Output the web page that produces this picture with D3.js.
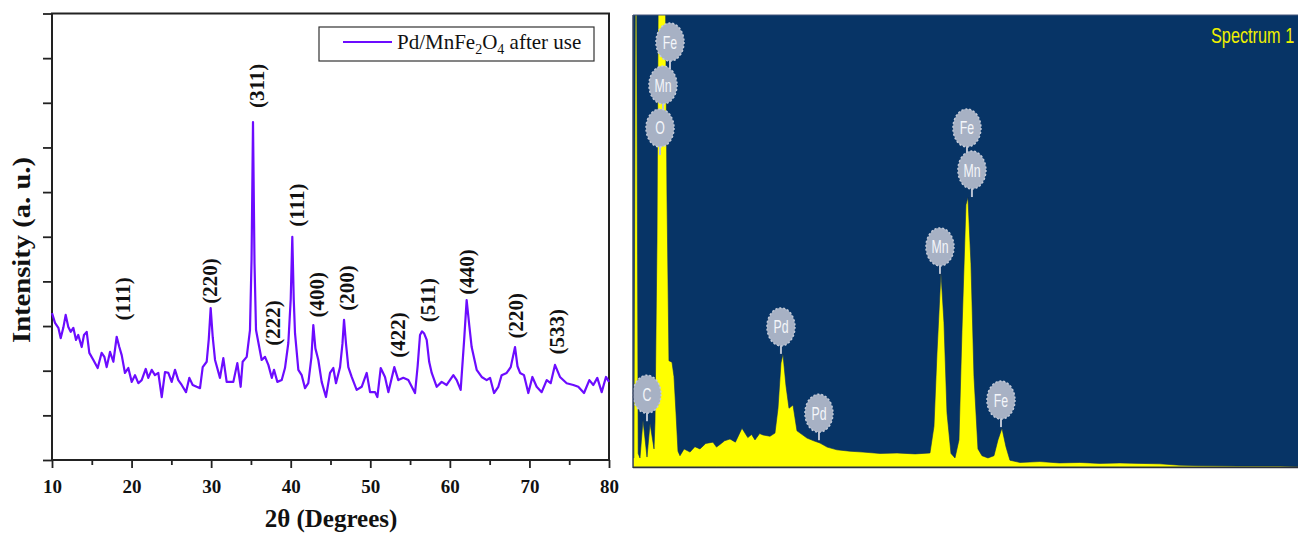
<!DOCTYPE html>
<html>
<head>
<meta charset="utf-8">
<script src="https://cdn.jsdelivr.net/npm/d3@7"></script>
<style>
  body { margin: 0; background: #fff; }
  svg { display: block; }
</style>
</head>
<body>
<svg id="mainFrame"></svg>
<script>
// XRD pattern
const twoTheta = [10.0, 10.38, 10.8, 11.09, 11.42, 11.72, 12.05, 12.35, 12.68, 13.02, 13.3, 13.73, 14.02, 14.36, 14.69,
  15.2, 15.74, 16.24, 16.58, 16.87, 17.29, 17.71, 18.13, 18.46, 18.76, 19.17, 19.59, 20.02, 20.43, 20.85,
  21.27, 21.78, 22.1, 22.53, 22.94, 23.36, 23.79, 24.2, 24.62, 25.04, 25.46, 25.87, 26.3, 26.84, 27.26,
  27.68, 28.18, 28.6, 28.94, 29.44, 29.7, 29.94, 30.2, 30.49, 31.11, 31.53, 31.95, 32.79, 33.29, 33.71,
  33.96, 34.47, 34.88, 35.08, 35.26, 35.45, 35.64, 36.35, 36.77, 37.19, 37.62, 37.9, 38.32, 38.87, 39.28,
  39.7, 40.0, 40.2, 40.38, 40.54, 40.96, 41.38, 41.8, 42.21, 42.6, 42.84, 43.1, 43.47, 43.89, 44.43,
  44.94, 45.35, 45.69, 46.2, 46.5, 46.7, 46.95, 47.24, 47.66, 48.29, 48.92, 49.55, 49.97, 50.6, 50.89,
  51.31, 51.85, 52.27, 53.02, 53.52, 54.15, 54.78, 55.62, 55.95, 56.25, 56.5, 56.75, 57.09, 57.4, 57.72,
  58.35, 58.97, 59.6, 60.44, 60.86, 61.36, 61.8, 62.11, 62.45, 62.74, 63.37, 64.0, 64.63, 65.05, 65.55,
  66.09, 66.51, 67.14, 67.65, 68.19, 68.5, 68.82, 69.32, 69.86, 70.37, 70.91, 71.54, 72.17, 72.67, 73.21,
  73.84, 74.68, 75.52, 76.14, 76.86, 77.53, 78.03, 78.53, 79.08, 79.62, 80.0];
const intensity = [32.9, 30.7, 29.6, 27.3, 29.6, 32.5, 29.8, 28.7, 29.6, 26.9, 28.0, 25.3, 28.0, 28.7, 24.0,
  22.4, 20.6, 24.0, 23.1, 20.8, 24.2, 22.0, 27.6, 25.3, 23.5, 19.5, 20.6, 17.5, 19.0, 17.2,
  17.9, 20.4, 18.4, 20.2, 19.0, 19.5, 14.1, 19.7, 19.5, 17.5, 20.2, 17.9, 16.8, 15.2, 18.4,
  16.8, 16.4, 16.1, 20.8, 22.0, 27.0, 34.0, 27.5, 22.4, 18.4, 22.8, 17.5, 17.5, 21.7, 16.4,
  22.0, 23.1, 29.1, 45.0, 75.7, 44.0, 29.1, 22.4, 23.1, 21.3, 18.4, 20.2, 17.5, 17.9, 20.6,
  26.2, 36.0, 50.0, 36.0, 28.4, 20.2, 19.0, 16.1, 17.2, 23.0, 30.2, 25.0, 22.4, 17.5, 14.1,
  19.5, 20.6, 17.2, 20.8, 26.0, 31.4, 26.0, 20.8, 18.6, 15.7, 16.4, 19.5, 15.2, 15.2, 14.1,
  20.6, 18.6, 15.2, 20.8, 17.9, 18.4, 17.9, 15.0, 21.0, 28.0, 28.8, 28.4, 26.9, 22.0, 19.5,
  16.4, 17.5, 16.8, 19.0, 17.9, 15.7, 27.0, 35.8, 30.0, 25.3, 20.2, 18.6, 17.9, 18.4, 15.0,
  16.4, 19.0, 19.5, 20.8, 25.3, 21.0, 19.5, 19.0, 15.0, 18.6, 16.4, 15.2, 17.9, 17.2, 21.3,
  18.6, 17.2, 16.8, 16.4, 15.0, 17.9, 16.8, 18.4, 15.2, 18.6, 17.5];

// hkl labels: text, 2theta of label centre, intensity of label centre
const hklText = ["(111)", "(220)", "(311)", "(222)", "(111)", "(400)", "(200)", "(422)", "(511)", "(440)", "(220)", "(533)"];
const hklTheta = [18.9, 29.86, 35.76, 37.77, 40.79, 43.3, 47.07, 53.48, 57.25, 62.16, 68.3, 73.47];
const hklLevel = [36.1, 40.1, 83.8, 30.7, 57.1, 37.0, 38.5, 28.0, 35.8, 42.1, 32.3, 28.7];

const xTicks = d3.range(10, 81, 5);
const yTicks = d3.range(0, 101, 10);

// EDS spectrum
const energy = [0.204, 0.22, 0.26, 0.30, 0.333, 0.389, 0.463, 0.519, 0.593, 0.611, 0.648, 0.685, 0.741, 0.796,
  0.833, 0.870, 0.926, 0.963, 1.0, 1.037, 1.074, 1.15, 1.26, 1.35, 1.444, 1.55, 1.685, 1.75, 1.815, 1.9, 2.0,
  2.1, 2.222, 2.33, 2.4, 2.463, 2.55, 2.611, 2.741, 2.833, 2.889, 2.944, 2.981, 3.037, 3.093, 3.167, 3.241,
  3.426, 3.55, 3.667, 3.8, 3.981, 4.22, 4.463, 4.78, 5.093, 5.43, 5.704, 5.778, 5.833, 5.907, 5.963, 6.019,
  6.093, 6.167, 6.241, 6.296, 6.37, 6.407, 6.463, 6.519, 6.593, 6.667, 6.778, 6.889, 6.963, 7.037, 7.111,
  7.185, 7.37, 7.74, 8.1, 8.48, 8.85, 9.22, 9.59, 9.96, 10.33, 10.7, 11.44, 12.19, 12.52];
const counts = [20, 20, 1500, 30, 20, 104, 22, 97, 40, 100, 500, 1400, 1500, 1200,
  600, 235, 232, 200, 120, 35, 25, 40, 33, 45, 40, 52, 55, 44, 50, 58, 62,
  55, 86, 65, 72, 60, 74, 71, 68, 75, 130, 230, 250, 180, 130, 137, 80,
  64, 58, 53, 44, 38, 35, 33, 30, 31, 29, 31, 90, 250, 431, 320, 120,
  30, 20, 60, 300, 580, 597, 450, 200, 40, 25, 20, 25, 60, 86, 45,
  15, 10, 12, 9, 10, 8, 9, 8, 7, 4, 3, 2, 2, 1];

// element markers: symbol, energy and count level of the marker centre
const elemName = ["Fe", "Mn", "O", "C", "Pd", "Pd", "Mn", "Fe", "Mn", "Fe"];
const elemEnergy = [0.889, 0.759, 0.704, 0.463, 2.944, 3.648, 5.889, 6.389, 6.481, 7.019];
const elemLevel = [940, 845, 750, 161, 310, 119, 487, 750, 657, 148];

const width = 1298, height = 534;
const purple = "#6c0cff";
const serif = "'Liberation Serif', 'Times New Roman', serif";
const sans = "'Liberation Sans', Arial, sans-serif";

const svg = d3.select("#mainFrame")
    .attr("width", width)
    .attr("height", height);

// ---------- left panel: XRD ----------
const x = d3.scaleLinear().domain([10, 80]).range([52, 609]);
const y = d3.scaleLinear().domain([0, 100]).range([460, 13.5]);

const xrd = svg.append("g");

const xAxis = xrd.append("g")
    .attr("transform", `translate(0,${y(0)})`)
    .call(d3.axisBottom(x).tickValues(xTicks).tickSize(8).tickPadding(12)
        .tickFormat(d => d % 10 === 0 ? d : ""));
xAxis.select(".domain").remove();
xAxis.selectAll(".tick line")
    .attr("stroke", "#222")
    .attr("stroke-width", 1.8)
    .attr("y2", d => d % 10 === 0 ? 8 : 5);
xAxis.selectAll(".tick text")
    .attr("fill", "#111")
    .attr("font-family", serif)
    .attr("font-weight", "bold")
    .attr("font-size", 19);

const yAxis = xrd.append("g")
    .attr("transform", `translate(${x(10)},0)`)
    .call(d3.axisLeft(y).tickValues(yTicks).tickSize(9).tickFormat(""));
yAxis.select(".domain").remove();
yAxis.selectAll(".tick line").attr("stroke", "#222").attr("stroke-width", 1.8);

xrd.append("rect")
    .attr("x", x(10))
    .attr("y", y(100))
    .attr("width", x(80) - x(10))
    .attr("height", y(0) - y(100))
    .attr("fill", "none")
    .attr("stroke", "#222")
    .attr("stroke-width", 2);

const line = d3.line()
    .x((d, i) => x(twoTheta[i]))
    .y(d => y(d));

xrd.append("path")
    .datum(intensity)
    .attr("d", line)
    .attr("fill", "none")
    .attr("stroke", purple)
    .attr("stroke-width", 2.2)
    .attr("stroke-linejoin", "round");

xrd.selectAll(".hkl")
    .data(hklText)
    .join("text")
    .attr("class", "hkl")
    .attr("transform", (d, i) => `translate(${x(hklTheta[i])},${y(hklLevel[i])}) rotate(-90)`)
    .attr("text-anchor", "middle")
    .attr("dy", "0.35em")
    .attr("font-family", serif)
    .attr("font-weight", "bold")
    .attr("font-size", 21)
    .attr("fill", "#111")
    .text(d => d);

// axis titles
xrd.append("text")
    .attr("x", 331)
    .attr("y", 527)
    .attr("text-anchor", "middle")
    .attr("font-family", serif)
    .attr("font-weight", "bold")
    .attr("font-size", 25)
    .attr("fill", "#111")
    .text("2θ (Degrees)");

xrd.append("text")
    .attr("transform", "translate(30,250) rotate(-90)")
    .attr("text-anchor", "middle")
    .attr("font-family", serif)
    .attr("font-weight", "bold")
    .attr("font-size", 26)
    .attr("textLength", 186)
    .attr("lengthAdjust", "spacingAndGlyphs")
    .attr("fill", "#111")
    .text("Intensity (a. u.)");

// legend
const legend = xrd.append("g");
legend.append("rect")
    .attr("x", 319).attr("y", 27)
    .attr("width", 275).attr("height", 34)
    .attr("fill", "#fff")
    .attr("stroke", "#333")
    .attr("stroke-width", 1.2);
legend.append("line")
    .attr("x1", 343).attr("x2", 392)
    .attr("y1", 42).attr("y2", 42)
    .attr("stroke", purple)
    .attr("stroke-width", 2.2);
const lt = legend.append("text")
    .attr("x", 397).attr("y", 49)
    .attr("font-family", serif)
    .attr("font-size", 21)
    .attr("fill", "#111");
lt.append("tspan").text("Pd/MnFe");
lt.append("tspan").attr("dy", 5).attr("font-size", 14).text("2");
lt.append("tspan").attr("dy", -5).text("O");
lt.append("tspan").attr("dy", 5).attr("font-size", 14).text("4");
lt.append("tspan").attr("dy", -5).text(" after use");

// ---------- right panel: EDS ----------
const ex = d3.scaleLinear().domain([0.2037, 12.52]).range([633, 1298]);
const ey = d3.scaleLinear().domain([0, 1000]).range([467, 15]);

const eds = svg.append("g");

eds.append("clipPath").attr("id", "edsClip")
    .append("rect")
    .attr("x", 633).attr("y", 15)
    .attr("width", 1298 - 633).attr("height", 467 - 15);

eds.append("rect")
    .attr("x", 633).attr("y", 15)
    .attr("width", 1298 - 633).attr("height", 467 - 15)
    .attr("fill", "#073466");

const area = d3.area()
    .x((d, i) => ex(energy[i]))
    .y0(ey(0))
    .y1(d => ey(d));

eds.append("path")
    .datum(counts)
    .attr("clip-path", "url(#edsClip)")
    .attr("d", area)
    .attr("fill", "#ffff00")
    .attr("stroke", "#0a2a5c")
    .attr("stroke-width", 0.6);

const rx = 14, ry = 19;
const marker = eds.selectAll(".elem")
    .data(elemName)
    .join("g")
    .attr("class", "elem")
    .attr("transform", (d, i) => `translate(${ex(elemEnergy[i])},${ey(elemLevel[i])})`);

marker.append("line")
    .attr("x1", 0).attr("x2", 0)
    .attr("y1", ry - 2).attr("y2", ry + 8)
    .attr("stroke", "#b9c2d2")
    .attr("stroke-width", 2);

marker.append("ellipse")
    .attr("rx", rx).attr("ry", ry)
    .attr("fill", "#a7b1c4")
    .attr("stroke", "#c3cad8")
    .attr("stroke-width", 1.5)
    .attr("stroke-dasharray", "2,2");

marker.append("text")
    .attr("transform", "scale(0.82,1.2)")
    .attr("text-anchor", "middle")
    .attr("dy", "0.36em")
    .attr("font-family", sans)
    .attr("font-size", 15)
    .attr("fill", "#f4f6fa")
    .text(d => d);

eds.append("text")
    .attr("transform", "translate(1211,43) scale(0.74,1)")
    .attr("font-family", sans)
    .attr("font-size", 22)
    .attr("fill", "#f0f000")
    .text("Spectrum 1");

// panel edges
eds.append("line")
    .attr("x1", 633).attr("x2", 633)
    .attr("y1", 15).attr("y2", 468)
    .attr("stroke", "#3c4a66").attr("stroke-width", 1.5);
eds.append("line")
    .attr("x1", 633).attr("x2", 1298)
    .attr("y1", 15).attr("y2", 15)
    .attr("stroke", "#44557a").attr("stroke-width", 1);
eds.append("line")
    .attr("x1", 633).attr("x2", 1298)
    .attr("y1", 467.5).attr("y2", 467.5)
    .attr("stroke", "#2b2f3a").attr("stroke-width", 1.5);
</script>
</body>
</html>
